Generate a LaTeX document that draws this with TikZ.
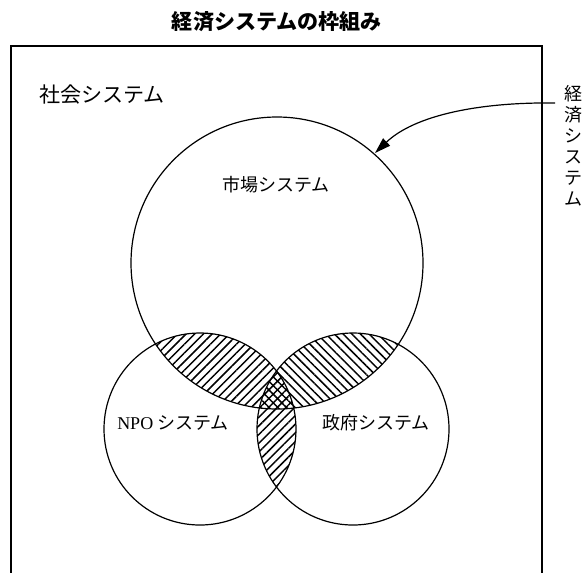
\documentclass[tikz,border=0pt]{standalone}
\usepackage{fontspec}
\setmainfont{Liberation Serif}
\newfontfamily\jp{Noto Sans CJK JP}
\usepackage{tikz}
\usetikzlibrary{arrows.meta,patterns.meta}
\tikzset{
  ring/.style={line width=0.9pt},
  hatchR/.style={pattern={Lines[angle=45,distance=4.6pt,line width=1.1pt]}},
  hatchL/.style={pattern={Lines[angle=-45,distance=4.6pt,line width=1.1pt]}},
  biglbl/.style={inner sep=0pt,font=\jp\fontsize{15.8}{18}\selectfont},
  lbl/.style={inner sep=0pt,font=\jp\fontsize{13.5}{16}\selectfont},
  vlbl/.style={inner sep=0pt,align=center,font=\jp\fontsize{13.5}{15.75}\selectfont},
}

\begin{document}
\begin{tikzpicture}[x=0.75pt,y=-0.75pt]
    \useasboundingbox (0,0) rectangle (584,572);
    \clip (0,0) rectangle (584,572);
    \fill[white] (0,0) rectangle (584,572);

    \coordinate (mkt) at (277,263);
    \coordinate (npo) at (200,429);
    \coordinate (gov) at (353,429);

    \node[biglbl,font=\jp\bfseries\fontsize{15.8}{18}\selectfont] (title) at (277,22) {経済システムの枠組み};
    \draw[ring] (11,590) |- (542,46) -- (542,590);
    \node[biglbl] (soclbl) at (102,95) {社会システム};

    % hatching
    \begin{scope}
        \clip (npo) circle (96);
        \fill[hatchR] (mkt) circle (146) (gov) circle (96);
    \end{scope}
    \begin{scope}
        \clip (mkt) circle (146);
        \fill[hatchL] (gov) circle (96);
    \end{scope}

    \draw[ring] (mkt) circle (146);
    \draw[ring] (npo) circle (96);
    \draw[ring] (gov) circle (96);

    \node[lbl] (mktlbl) at (276,185) {市場システム};
    \node[lbl] (npolbl) at (173,423) {{\rmfamily NPO} システム};
    \node[lbl] (govlbl) at (376,423) {政府システム};

    \node[vlbl] (econlbl) at (573,146) {経\\済\\シ\\ス\\テ\\ム};
    \coordinate (from) at (555,103);
    \coordinate (tip) at (375,153);
    \draw[ring,-{Triangle[length=12pt,width=7.5pt]}] (from) .. controls (480,102) and (415,115) .. (tip);
\end{tikzpicture}
\end{document}
